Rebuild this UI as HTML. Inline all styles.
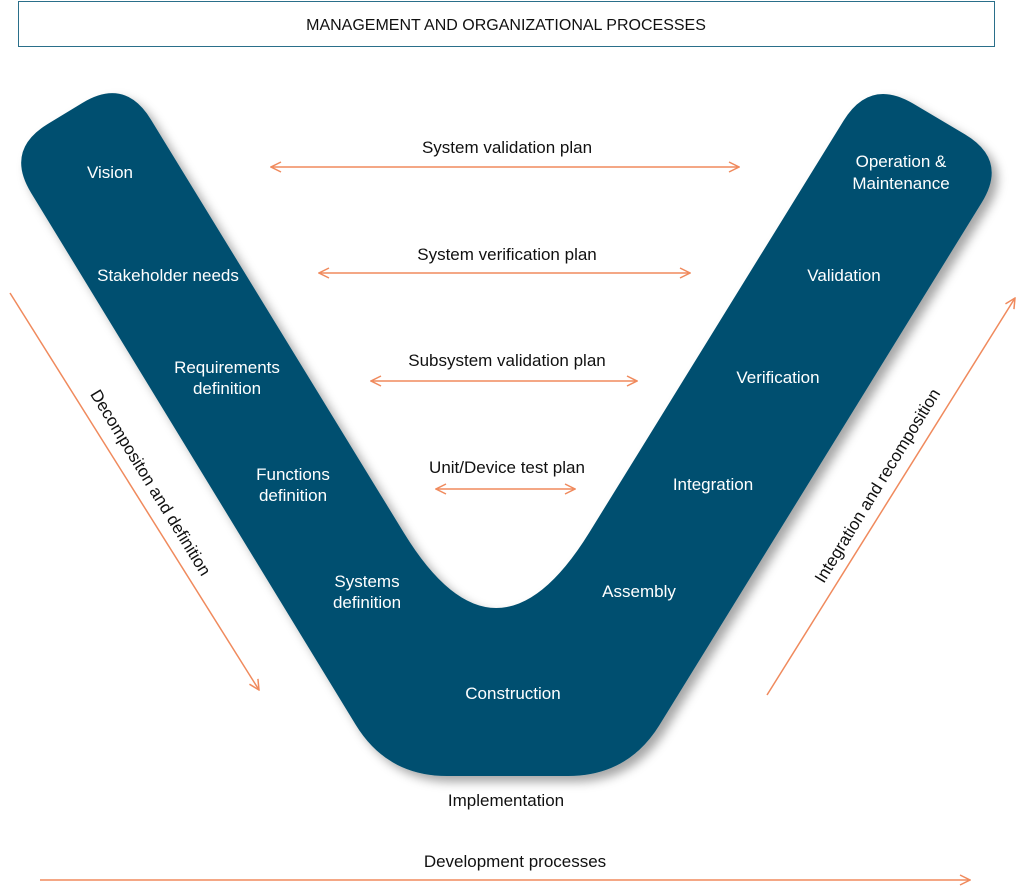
<!DOCTYPE html>
<html><head><meta charset="utf-8"><style>
html,body{margin:0;padding:0;background:#fff;}
body{width:1024px;height:888px;position:relative;overflow:hidden;font-family:"Liberation Sans",sans-serif;}
</style></head><body>
<svg width="1024" height="888" viewBox="0 0 1024 888" xmlns="http://www.w3.org/2000/svg" style="position:absolute;left:0;top:0">
<defs>
<filter id="sh" x="-10%" y="-10%" width="120%" height="120%"><feDropShadow dx="6" dy="6" stdDeviation="5" flood-color="#000" flood-opacity="0.35"/></filter>
<marker id="ah" viewBox="0 0 12 12" refX="11" refY="6" markerWidth="12" markerHeight="12" markerUnits="userSpaceOnUse" orient="auto-start-reverse"><path d="M1,1 L11,6 L1,11" fill="none" stroke="#F08A5D" stroke-width="1.5"/></marker>
</defs>
<rect x="18.5" y="1.5" width="976" height="45" fill="#fff" stroke="#2a6f8a" stroke-width="1"/>
<text x="506" y="30" font-size="16" text-anchor="middle" fill="#111">MANAGEMENT AND ORGANIZATIONAL PROCESSES</text>
<path filter="url(#sh)" fill="#03506F" d="M31,192.7 Q5,150 47.7,124 L82.3,103 Q125,77 151,119.7 L404,533 Q496,683 589,533 L843.7,120.5 Q870,78 913,103.5 L965,134.4 Q1008,160 981.8,202.5 L659.5,725 Q628,776 568,776 L447,776 Q387,776 355.7,724.8 Z"/>
<g fill="#fff" font-size="17" text-anchor="middle">
<text x="110" y="178">Vision</text>
<text x="168" y="281">Stakeholder needs</text>
<text x="227" y="373">Requirements</text><text x="227" y="394">definition</text>
<text x="293" y="480">Functions</text><text x="293" y="501">definition</text>
<text x="367" y="587">Systems</text><text x="367" y="608">definition</text>
<text x="513" y="699">Construction</text>
<text x="639" y="597">Assembly</text>
<text x="713" y="490">Integration</text>
<text x="778" y="383">Verification</text>
<text x="844" y="281">Validation</text>
<text x="901" y="167">Operation &amp;</text><text x="901" y="189">Maintenance</text>
</g>
<g fill="#111" font-size="17" text-anchor="middle">
<text x="507" y="153">System validation plan</text>
<text x="507" y="260">System verification plan</text>
<text x="507" y="366">Subsystem validation plan</text>
<text x="507" y="473">Unit/Device test plan</text>
<text x="506" y="806">Implementation</text>
<text x="515" y="867">Development processes</text>
<text transform="translate(150,483) rotate(58.5)" x="0" y="5">Decompositon and definition</text>
<text transform="translate(878,486) rotate(-58.5)" x="0" y="5">Integration and recomposition</text>
</g>
<g stroke="#F08A5D" stroke-width="1.5" fill="none">
<line x1="271" y1="167" x2="739" y2="167" marker-start="url(#ah)" marker-end="url(#ah)"/>
<line x1="319" y1="273" x2="690" y2="273" marker-start="url(#ah)" marker-end="url(#ah)"/>
<line x1="371" y1="381" x2="637" y2="381" marker-start="url(#ah)" marker-end="url(#ah)"/>
<line x1="436" y1="489" x2="575" y2="489" marker-start="url(#ah)" marker-end="url(#ah)"/>
<line x1="40" y1="880" x2="970" y2="880" marker-end="url(#ah)"/>
<line x1="10" y1="293" x2="259" y2="690" marker-end="url(#ah)"/>
<line x1="767" y1="695" x2="1015" y2="298" marker-end="url(#ah)"/>
</g>
</svg>
</body></html>
